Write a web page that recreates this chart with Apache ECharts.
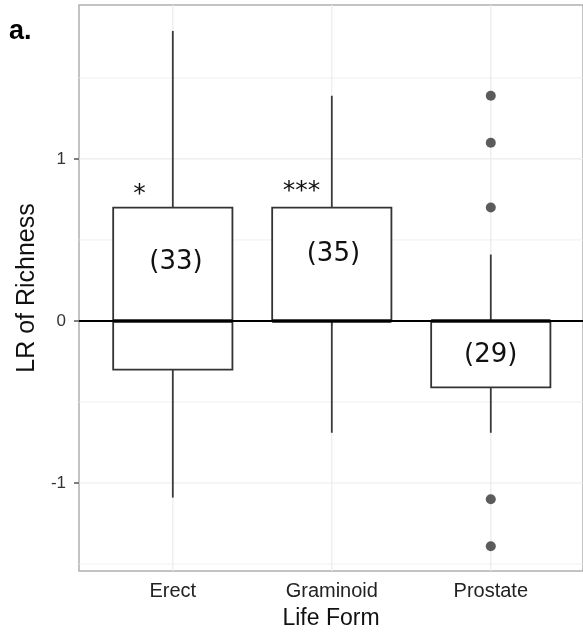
<!DOCTYPE html>
<html><head><meta charset="utf-8">
<script src="https://cdn.jsdelivr.net/npm/echarts@6/dist/echarts.min.js"></script>
<style>html,body{margin:0;padding:0;background:#fff}#c{width:583px;height:640px}</style>
</head><body><div id="c"></div>
<script>
const categories = ['Erect', 'Graminoid', 'Prostate'];
const positions = [1, 2, 3];
const whiskerLow = [-1.09, -0.69, -0.69];
const q1 = [-0.30, 0.00, -0.41];
const median = [0, 0, 0];
const q3 = [0.70, 0.70, 0.00];
const whiskerHigh = [1.79, 1.39, 0.41];
const outlierX = [3, 3, 3, 3, 3];
const outlierY = [1.39, 1.10, 0.70, -1.10, -1.39];
const countLabels = ['(33)', '(35)', '(29)'];
const countX = [1.02, 2.01, 3.0];
const countY = [0.36, 0.41, -0.21];
const sigLabels = ['*', '***'];
const sigX = [0.79, 1.81];
const sigY = [0.78, 0.80];
const yTicks = [-1, 0, 1];
const gridYs = [-1.5, -1, -0.5, 0, 0.5, 1, 1.5];
const yMin = -1.543, yMax = 1.95, xMin = 0.41, xMax = 3.58;

const chart = echarts.init(document.getElementById('c'), null, {renderer: 'canvas'});

function renderBox(params, api) {
  const x = api.value(0);
  const lo = api.coord([x, api.value(1)]);
  const b1 = api.coord([x, api.value(2)]);
  const md = api.coord([x, api.value(3)]);
  const b3 = api.coord([x, api.value(4)]);
  const hi = api.coord([x, api.value(5)]);
  const hw = api.size([0.75, 0])[0] / 2;
  const cx = lo[0];
  const ls = {stroke: '#3a3a3a', lineWidth: 1.8};
  return {type: 'group', children: [
    {type: 'line', shape: {x1: cx, y1: hi[1], x2: cx, y2: b3[1]}, style: ls},
    {type: 'line', shape: {x1: cx, y1: b1[1], x2: cx, y2: lo[1]}, style: ls},
    {type: 'rect', shape: {x: cx - hw, y: b3[1], width: 2 * hw, height: b1[1] - b3[1]}, style: {fill: '#fff', stroke: '#333', lineWidth: 1.8}},
    {type: 'line', shape: {x1: cx - hw, y1: md[1], x2: cx + hw, y2: md[1]}, style: {stroke: '#111', lineWidth: 3.5}}
  ]};
}

function renderGrid(params, api) {
  const kind = api.value(0), v = api.value(1);
  let a, b;
  if (kind === 0) { a = api.coord([v, yMin]); b = api.coord([v, yMax]); }
  else { a = api.coord([xMin, v]); b = api.coord([xMax, v]); }
  const major = api.value(2) === 1;
  return {type: 'line', shape: {x1: a[0], y1: a[1], x2: b[0], y2: b[1]},
    style: {stroke: '#ebebeb', lineWidth: major ? 1.2 : 0.8}};
}

function textRenderer(labels, font) {
  return function (params, api) {
    const p = api.coord([api.value(0), api.value(1)]);
    return {type: 'text', x: p[0], y: p[1], style: {
      text: labels[params.dataIndex], font: font, fill: '#111',
      align: 'center', verticalAlign: 'middle', textAlign: 'center', textVerticalAlign: 'middle'
    }};
  };
}

const gridData = positions.map(p => [0, p, 1]).concat(gridYs.map(y => [1, y, Number.isInteger(y) ? 1 : 0]));

const option = {
  animation: false,
  backgroundColor: '#fff',
  grid: {left: 79, top: 5, right: 0, height: 566, show: true, borderColor: '#b0b0b0', borderWidth: 1.5, backgroundColor: 'transparent'},
  xAxis: {
    type: 'value', min: xMin, max: xMax,
    name: 'Life Form', nameLocation: 'middle', nameGap: 36,
    nameTextStyle: {fontFamily: 'Liberation Sans', fontSize: 23, color: '#111'},
    axisLine: {show: false},
    splitLine: {show: false},
    axisTick: {show: true, customValues: positions, length: 5, lineStyle: {color: '#555', width: 1.5}},
    axisLabel: {customValues: positions, margin: 10, fontFamily: 'Liberation Sans', fontSize: 20, color: '#222',
      formatter: v => categories[Math.round(v) - 1]}
  },
  yAxis: {
    type: 'value', min: yMin, max: yMax,
    name: 'LR of Richness', nameLocation: 'middle', nameGap: 36,
    nameTextStyle: {fontFamily: 'Liberation Sans', fontSize: 25, color: '#111'},
    axisLine: {show: false},
    splitLine: {show: false},
    axisTick: {show: true, customValues: yTicks, length: 5, lineStyle: {color: '#555', width: 1.5}},
    axisLabel: {customValues: yTicks, margin: 13, fontFamily: 'Liberation Sans', fontSize: 17, color: '#333'}
  },
  graphic: [{type: 'text', left: 9, top: 18, style: {text: 'a.', font: 'bold 27px "Liberation Sans"', fill: '#000'}}],
  series: [
    {type: 'custom', z: 1, silent: true, renderItem: renderGrid, encode: {x: -1, y: -1}, clip: true,
      data: gridData},
    {type: 'custom', z: 2, renderItem: renderBox, encode: {x: 0, y: [1, 2, 3, 4, 5]},
      data: positions.map((p, i) => [p, whiskerLow[i], q1[i], median[i], q3[i], whiskerHigh[i]])},
    {type: 'scatter', z: 3, symbol: 'circle', symbolSize: 10, itemStyle: {color: '#333'},
      data: outlierX.map((x, i) => [x, outlierY[i]])},
    {type: 'line', data: [], z: 5, silent: true,
      markLine: {silent: true, symbol: ['none', 'none'], label: {show: false},
        lineStyle: {color: '#000', width: 2.2, type: 'solid'},
        data: [{yAxis: 0}]}},
    {type: 'custom', z: 6, renderItem: textRenderer(countLabels, '26px "DejaVu Sans"'), encode: {x: 0, y: 1},
      data: countX.map((x, i) => [x, countY[i]])},
    {type: 'custom', z: 6, renderItem: textRenderer(sigLabels, '25px "DejaVu Sans"'), encode: {x: 0, y: 1},
      data: sigX.map((x, i) => [x, sigY[i]])}
  ]
};
chart.setOption(option);
</script></body></html>
